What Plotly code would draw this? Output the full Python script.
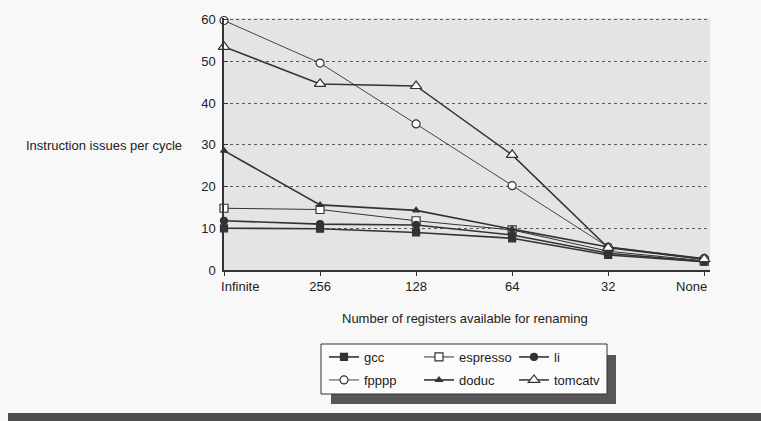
import plotly.graph_objects as go

# ---- data ----
categories = ["Infinite", "256", "128", "64", "32", "None"]
gcc      = [10.0, 9.9, 9.0, 7.6, 3.6, 2.0]
espresso = [14.8, 14.5, 11.8, 9.6, 4.5, 2.2]
li       = [11.8, 11.0, 10.8, 8.4, 4.0, 2.0]
fpppp    = [59.8, 49.6, 35.0, 20.2, 5.5, 2.8]
doduc    = [28.6, 15.6, 14.3, 9.8, 5.5, 2.6]
tomcatv  = [53.5, 44.6, 44.1, 27.6, 5.3, 2.6]
y_ticks = [0, 10, 20, 30, 40, 50, 60]

NB = "\u00a0"
tick_text = [NB * 9 + categories[0]] + categories[1:5] + [categories[5] + NB * 7]

INK = "#333333"
FONT = "Liberation Sans, Arial, sans-serif"

series = [
    ("gcc", gcc, "square", INK, 7, 1.6, "legend"),
    ("espresso", espresso, "square", "white", 8, 1.0, "legend"),
    ("li", li, "circle", INK, 7, 1.6, "legend"),
    ("fpppp", fpppp, "circle", "white", 8, 0.9, "legend2"),
    ("doduc", doduc, "triangle-up", INK, 6, 1.6, "legend2"),
    ("tomcatv", tomcatv, "triangle-up", "white", 10, 1.5, "legend2"),
]

fig = go.Figure()
for name, vals, sym, fill, size, lw, leg in series:
    fig.add_trace(go.Scatter(
        x=categories, y=vals, name=name, mode="lines+markers",
        line=dict(color=INK, width=lw),
        marker=dict(symbol=sym, size=size, color=fill,
                    line=dict(color=INK, width=1.2)),
        legend=leg, cliponaxis=False,
    ))

L, R, T, B = 224, 51, 18, 151
W, H = 761, 421
pw, ph = W - L - R, H - T - B


def px(x):
    return (x - L) / pw


def py(y):
    return (H - B - y) / ph


leg_common = dict(orientation="h", xanchor="left", yanchor="middle",
                  entrywidth=50, entrywidthmode="pixels", itemwidth=30,
                  bgcolor="rgba(0,0,0,0)", borderwidth=0,
                  font=dict(family=FONT, size=13, color="#222"),
                  traceorder="normal")

LX = 324  # legend left (pixels)

fig.update_layout(
    width=W, height=H,
    margin=dict(l=L, r=R, t=T, b=B, pad=0),
    paper_bgcolor="#f8f8f8",
    plot_bgcolor="#e4e4e4",
    font=dict(family=FONT, size=13, color="#222"),
    showlegend=True,
    legend=dict(x=px(LX), y=py(357), **leg_common),
    legend2=dict(x=px(LX), y=py(380), **leg_common),
    xaxis=dict(
        type="category", categoryorder="array", categoryarray=categories,
        range=[0, 5.06], tickvals=categories, ticktext=tick_text,
        showgrid=False, zeroline=False,
        showline=True, linecolor=INK, linewidth=1.5,
        ticks="outside", ticklen=4, tickcolor=INK,
        tickfont=dict(family=FONT, size=13, color="#222"),
    ),
    yaxis=dict(
        range=[0, 60.4], tickvals=y_ticks,
        showgrid=True, gridcolor="#5a5a5a", griddash="dot", gridwidth=1,
        zeroline=False, showline=True, linecolor=INK, linewidth=1.5,
        ticks="inside", ticklen=4, tickcolor=INK, ticklabelstandoff=4,
        tickfont=dict(family=FONT, size=13, color="#222"),
    ),
    annotations=[
        dict(text="Instruction issues per cycle", xref="paper", yref="paper",
             x=px(24), y=py(145), xanchor="left", yanchor="middle",
             showarrow=False, font=dict(family=FONT, size=13, color="#222")),
        dict(text="Number of registers available for renaming", xref="paper",
             yref="paper", x=px(464.5), y=py(318), xanchor="center",
             yanchor="middle", showarrow=False,
             font=dict(family=FONT, size=13, color="#222")),
    ],
    shapes=[
        dict(type="rect", xref="paper", yref="paper", layer="above",
             x0=px(LX + 7), x1=px(LX + 292), y0=py(355), y1=py(404),
             fillcolor="#575757", line=dict(width=0)),
        dict(type="rect", xref="paper", yref="paper", layer="above",
             x0=px(LX - 3), x1=px(LX + 283), y0=py(344), y1=py(394),
             fillcolor="#fbfbfb", line=dict(color="#333", width=1)),
        dict(type="rect", xref="paper", yref="paper", layer="above",
             x0=px(8), x1=px(770), y0=py(413), y1=py(430),
             fillcolor="#4e4e4e", line=dict(width=0)),
    ],
)

fig.write_html("out.html")
